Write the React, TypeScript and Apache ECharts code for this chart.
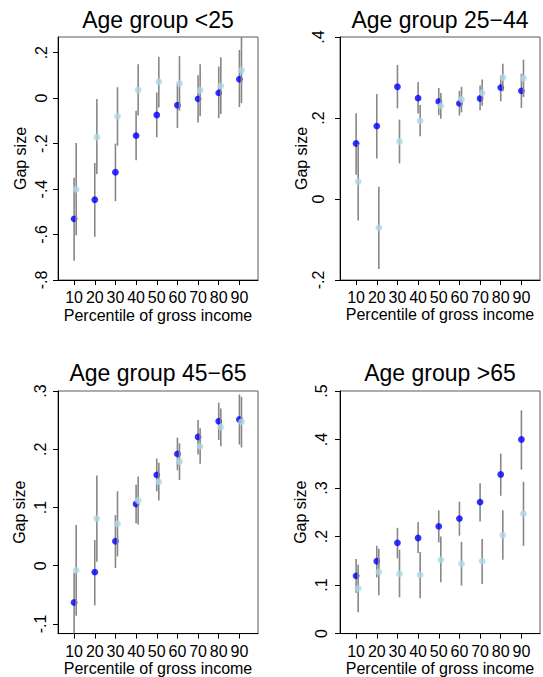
import React, { useEffect, useRef } from "react";
import * as echarts from "echarts";

// ---- data ----
const percentiles = [10, 20, 30, 40, 50, 60, 70, 80, 90];
const panelTitles = ["Age group <25", "Age group 25\u221244", "Age group 45\u221265", "Age group >65"];
const xAxisTitle = "Percentile of gross income";
const yAxisTitle = "Gap size";

// Age group <25
const under25Dark = [-0.531, -0.447, -0.326, -0.165, -0.074, -0.031, -0.003, 0.023, 0.083];
const under25DarkLo = [-0.715, -0.61, -0.453, -0.273, -0.172, -0.131, -0.107, -0.088, -0.039];
const under25DarkHi = [-0.35, -0.285, -0.2, -0.055, 0.025, 0.063, 0.101, 0.139, 0.212];
const under25Light = [-0.401, -0.172, -0.08, 0.036, 0.072, 0.064, 0.035, 0.054, 0.123];
const under25LightLo = [-0.603, -0.334, -0.209, -0.076, -0.041, -0.055, -0.08, -0.07, -0.022];
const under25LightHi = [-0.197, -0.004, 0.048, 0.149, 0.182, 0.185, 0.149, 0.18, 0.285];

// Age group 25-44
const age2544Dark = [0.137, 0.18, 0.277, 0.249, 0.241, 0.236, 0.248, 0.275, 0.267];
const age2544DarkLo = [0.06, 0.1, 0.224, 0.211, 0.207, 0.206, 0.219, 0.241, 0.225];
const age2544DarkHi = [0.212, 0.259, 0.331, 0.289, 0.274, 0.267, 0.28, 0.305, 0.309];
const age2544Light = [0.043, -0.071, 0.142, 0.193, 0.23, 0.246, 0.262, 0.3, 0.298];
const age2544LightLo = [-0.053, -0.173, 0.088, 0.155, 0.198, 0.214, 0.23, 0.266, 0.252];
const age2544LightHi = [0.135, 0.03, 0.196, 0.232, 0.262, 0.277, 0.295, 0.334, 0.344];

// Age group 45-65
const age4565Dark = [-0.063, -0.011, 0.042, 0.106, 0.156, 0.192, 0.221, 0.248, 0.251];
const age4565DarkLo = [-0.13, -0.068, -0.004, 0.073, 0.128, 0.164, 0.191, 0.216, 0.208];
const age4565DarkHi = [-0.0125, 0.044, 0.087, 0.139, 0.184, 0.22, 0.25, 0.28, 0.294];
const age4565Light = [-0.008, 0.081, 0.072, 0.112, 0.144, 0.179, 0.205, 0.238, 0.247];
const age4565LightLo = [-0.086, 0.007, 0.016, 0.071, 0.112, 0.147, 0.175, 0.205, 0.203];
const age4565LightHi = [0.07, 0.155, 0.128, 0.153, 0.177, 0.21, 0.236, 0.27, 0.29];

// Age group >65
const over65Dark = [0.119, 0.149, 0.187, 0.197, 0.221, 0.237, 0.271, 0.328, 0.4];
const over65DarkLo = [0.084, 0.116, 0.155, 0.166, 0.188, 0.202, 0.231, 0.284, 0.338];
const over65DarkHi = [0.154, 0.181, 0.218, 0.23, 0.254, 0.272, 0.31, 0.371, 0.46];
const over65Light = [0.093, 0.127, 0.123, 0.121, 0.152, 0.144, 0.149, 0.203, 0.247];
const over65LightLo = [0.044, 0.079, 0.075, 0.073, 0.106, 0.099, 0.102, 0.152, 0.181];
const over65LightHi = [0.142, 0.175, 0.173, 0.168, 0.2, 0.189, 0.195, 0.254, 0.313];

// y tick labels per panel
const under25Ticks = [-0.8, -0.6, -0.4, -0.2, 0, 0.2];
const age2544Ticks = [-0.2, 0, 0.2, 0.4];
const age4565Ticks = [-0.1, 0, 0.1, 0.2, 0.3];
const over65Ticks = [0, 0.1, 0.2, 0.3, 0.4, 0.5];

const panels = [
  { dark: under25Dark, darkLo: under25DarkLo, darkHi: under25DarkHi, light: under25Light, lightLo: under25LightLo, lightHi: under25LightHi, ticks: under25Ticks, min: -0.8, max: 0.269 },
  { dark: age2544Dark, darkLo: age2544DarkLo, darkHi: age2544DarkHi, light: age2544Light, lightLo: age2544LightLo, lightHi: age2544LightHi, ticks: age2544Ticks, min: -0.2, max: 0.4 },
  { dark: age4565Dark, darkLo: age4565DarkLo, darkHi: age4565DarkHi, light: age4565Light, lightLo: age4565LightLo, lightHi: age4565LightHi, ticks: age4565Ticks, min: -0.1165, max: 0.3 },
  { dark: over65Dark, darkLo: over65DarkLo, darkHi: over65DarkHi, light: over65Light, lightLo: over65LightLo, lightHi: over65LightHi, ticks: over65Ticks, min: 0, max: 0.5 },
];

// ---- layout / style ----
const FONT = "'Liberation Sans', Arial, Helvetica, sans-serif";
const DARK = "#0000ff";
const LIGHT = "#add8e6";
const SPIKE = "#878787";
const LIGHT_OFFSET = 1;
const grids = [
  { left: 58, top: 37, width: 200, height: 243 },
  { left: 340, top: 37, width: 200, height: 243 },
  { left: 58, top: 391, width: 200, height: 243 },
  { left: 340, top: 391, width: 200, height: 243 },
];
const titleTops = [8.5, 8.5, 361.5, 361.5];
const yLabelMargins = [9, 14, 10, 11];
const yNameGaps = [30, 31, 30.5, 31.5];
const xLabelMargins = [9, 9, 9.5, 9.5];
const xNameGaps = [27, 26, 26, 26];

function fmtY(v: number): string {
  if (Math.abs(v) < 1e-9) return "0";
  const s = String(+v.toFixed(3));
  return s.replace("0.", ".");
}

function spikeRender(params: any, api: any) {
  const x = api.value(0);
  const lo = api.value(1);
  const hi = api.value(2);
  const p1 = api.coord([x, lo]);
  const p2 = api.coord([x, hi]);
  const cs = params.coordSys;
  const clamp = (y: number) => Math.max(cs.y, Math.min(cs.y + cs.height, y));
  return {
    type: "line",
    shape: { x1: p1[0], y1: clamp(p1[1]), x2: p2[0], y2: clamp(p2[1]) },
    style: { stroke: SPIKE, lineWidth: 1.6 },
  };
}

export default function App() {
  const ref = useRef<HTMLDivElement>(null);
  useEffect(() => {
    if (!ref.current) return;
    const chart = echarts.init(ref.current, null, { renderer: "svg" });
    const series: any[] = [];
    panels.forEach((p, i) => {
      const darkSpikes = percentiles.map((x, k) => [x, p.darkLo[k], p.darkHi[k]]);
      const lightSpikes = percentiles.map((x, k) => [x + LIGHT_OFFSET, p.lightLo[k], p.lightHi[k]]);
      series.push({
        type: "custom",
        xAxisIndex: i,
        yAxisIndex: i,
        renderItem: spikeRender,
        encode: { x: 0, y: [1, 2] },
        data: darkSpikes,
        z: 2,
      });
      series.push({
        type: "scatter",
        xAxisIndex: i,
        yAxisIndex: i,
        symbol: "circle",
        symbolSize: 6.8,
        itemStyle: { color: DARK },
        data: percentiles.map((x, k) => [x, p.dark[k]]),
        z: 3,
      });
      series.push({
        type: "custom",
        xAxisIndex: i,
        yAxisIndex: i,
        renderItem: spikeRender,
        encode: { x: 0, y: [1, 2] },
        data: lightSpikes,
        z: 4,
      });
      series.push({
        type: "scatter",
        xAxisIndex: i,
        yAxisIndex: i,
        symbol: "circle",
        symbolSize: 6.8,
        itemStyle: { color: LIGHT },
        data: percentiles.map((x, k) => [x + LIGHT_OFFSET, p.light[k]]),
        z: 5,
      });
    });

    const option: any = {
      animation: false,
      backgroundColor: "#ffffff",
      title: panelTitles.map((t, i) => ({
        text: t,
        left: grids[i].left + grids[i].width / 2,
        top: titleTops[i],
        textAlign: "center",
        padding: 0,
        textStyle: { fontSize: 23, fontWeight: "normal", color: "#000", fontFamily: FONT },
      })),
      grid: grids.map((g) => ({
        ...g,
        show: true,
        borderColor: "#5a5a5a",
        borderWidth: 1,
        backgroundColor: "transparent",
        containLabel: false,
      })),
      xAxis: grids.map((g, i) => ({
        type: "value",
        gridIndex: i,
        min: 2.2,
        max: 99,
        name: xAxisTitle,
        nameLocation: "middle",
        nameGap: xNameGaps[i],
        nameTextStyle: { fontSize: 16, color: "#000", fontFamily: FONT },
        axisLine: { show: true, onZero: false, lineStyle: { color: "#000", width: 1 } },
        axisTick: { show: true, length: 5, customValues: percentiles, lineStyle: { color: "#000" } },
        axisLabel: {
          customValues: percentiles,
          margin: xLabelMargins[i],
          fontSize: 16,
          color: "#000",
          fontFamily: FONT,
        },
        splitLine: { show: false },
      })),
      yAxis: panels.map((p, i) => ({
        type: "value",
        gridIndex: i,
        min: p.min,
        max: p.max,
        name: yAxisTitle,
        nameLocation: "middle",
        nameGap: yNameGaps[i],
        nameTextStyle: { fontSize: 16, color: "#000", fontFamily: FONT },
        axisLine: { show: true, onZero: false, lineStyle: { color: "#000", width: 1 } },
        axisTick: { show: true, length: 5, customValues: p.ticks, lineStyle: { color: "#000" } },
        axisLabel: {
          customValues: p.ticks,
          rotate: 90,
          margin: yLabelMargins[i],
          fontSize: 16,
          color: "#000",
          fontFamily: FONT,
          formatter: (v: number) => fmtY(v),
        },
        splitLine: { show: false },
      })),
      series,
    };
    chart.setOption(option);
    return () => chart.dispose();
  }, []);
  return (
    <div
      ref={ref}
      style={{ position: "absolute", left: 0, top: 0, width: 543, height: 677, background: "#fff" }}
    />
  );
}
